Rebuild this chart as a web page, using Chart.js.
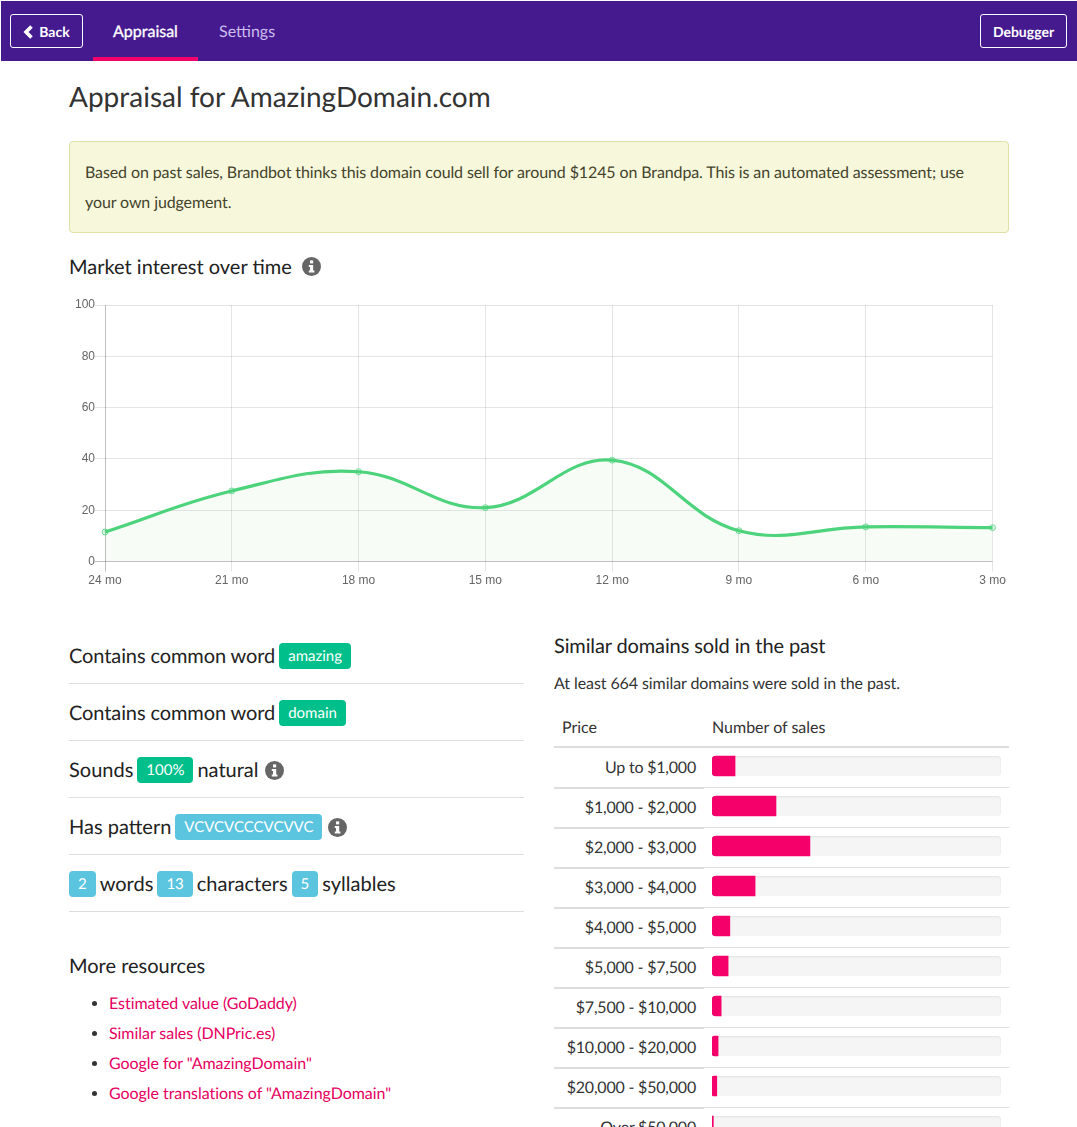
<!DOCTYPE html>
<html>
<head>
<meta charset="utf-8">
<title>Appraisal for AmazingDomain.com</title>
<script src="https://cdn.jsdelivr.net/npm/chart.js@4"></script>
<style>
html, body { margin: 0; padding: 0; background: #fff; }
#page { position: relative; width: 1077px; height: 1127px; overflow: hidden; font-family: Lato, sans-serif; font-size: 16px; color: #333; text-rendering: geometricPrecision; font-kerning: normal; }
#page > * { position: absolute; }
.navbar { left: 1px; top: 1px; width: 1076px; height: 60px; background: #461a8f; }
.nav-btn { top: 14px; height: 32px; border: 1px solid #fff; border-radius: 3px; color: #fff; font-size: 14px; font-weight: 700; line-height: 33px; text-align: center; }
.nav-link { top: 21px; font-size: 16px; line-height: 22px; }
.nav-active { left: 93px; top: 57px; width: 105px; height: 4px; background: #f50068; }
h1, h2 { margin: 0; font-weight: 400; white-space: nowrap; }
h1 { left: 69px; top: 77px; font-size: 28px; line-height: 38px; color: #333; }
h2 { font-size: 20px; line-height: 26px; color: #222; }
.alert { left: 69px; top: 141px; width: 908px; height: 59px; padding: 16px 15px 15px; background: #f7f7dc; border: 1px solid #dfdfa8; border-radius: 4px; color: #44442c; font-size: 16px; line-height: 30px; letter-spacing: -0.11px; }
.info { width: 19px; height: 19px; }
.fact { left: 69px; width: 455px; height: 56px; border-bottom: 1px solid #ddd; font-size: 20px; line-height: 26px; color: #222; white-space: nowrap; }
.fact span.inner { position: absolute; left: 0; top: 16px; display: flex; align-items: center; gap: 4px; }
.fact.tight { letter-spacing: -0.1px; }
.badge { display: inline-block; height: 26px; line-height: 26px; padding: 0 9px; border-radius: 4px; color: #fff; font-size: 15px; letter-spacing: 0; }
.green { background: #00bf8a; }
.blue { background: #5bc4df; }
.resources { left: 69px; top: 989px; margin: 0; padding: 0 0 0 40px; font-size: 16px; line-height: 30px; color: #333; letter-spacing: -0.05px; }
.resources span { color: #e6005f; }
.sales-table { left: 554px; top: 709px; width: 455px; border-collapse: collapse; font-size: 16px; color: #333; }
.sales-table th { height: 37px; padding: 0 8px; text-align: left; font-weight: 400; border-bottom: 2px solid #ddd; }
.sales-table td { height: 39px; padding: 0; border-bottom: 1px solid #ddd; }
.sales-table td.price { width: 142px; height: 38px; padding: 0 8px 0 0; text-align: right; border-bottom: 2px solid #ddd; letter-spacing: -0.2px; }
.track { position: relative; top: -2px; margin: 0 8px; height: 20px; background: #f5f5f5; border-radius: 4px; box-shadow: inset 0 1px 2px rgba(0,0,0,.08); }
#trend-wrap { left: 69px; top: 295px; width: 940px; height: 300px; }
#sales-wrap { left: 712px; top: 746px; width: 289px; height: 400px; }
</style>
</head>
<body>
<div id="page">
    <div class="navbar"></div>
    <div class="nav-btn" style="left:10px;width:71px"><svg width="11" height="14" viewBox="0 0 11 14" style="margin-right:5px;vertical-align:-2px"><polyline points="8.5,1.5 3,7 8.5,12.5" fill="none" stroke="#fff" stroke-width="3.6"/></svg>Back</div>
    <div class="nav-link" style="left:113px;color:#fff;-webkit-text-stroke:0.3px #fff">Appraisal</div>
    <div class="nav-active"></div>
    <div class="nav-link" style="left:219px;color:#cbbdf0">Settings</div>
    <div class="nav-btn" style="left:980px;width:85px">Debugger</div>

    <h1>Appraisal for AmazingDomain.com</h1>
    <div class="alert">Based on past sales, Brandbot thinks this domain could sell for around $1245 on Brandpa. This is an automated assessment; use your own judgement.</div>
    <h2 style="left:69px;top:254px">Market interest over time</h2>
    <svg class="info" style="left:302px;top:257px" viewBox="0 0 19 19"><use href="#info-icon"/></svg>

    <div id="trend-wrap"><canvas id="trend-chart"></canvas></div>

    <div class="fact tight" style="top:627px"><span class="inner">Contains common word <span class="badge green">amazing</span></span></div>
    <div class="fact tight" style="top:684px"><span class="inner">Contains common word <span class="badge green">domain</span></span></div>
    <div class="fact" style="top:741px"><span class="inner">Sounds <span class="badge green">100%</span>natural<svg class="info" style="margin-left:2px" viewBox="0 0 19 19"><use href="#info-icon"/></svg></span></div>
    <div class="fact" style="top:798px"><span class="inner">Has pattern <span class="badge blue">VCVCVCCCVCVVC</span><svg class="info" style="margin-left:2px" viewBox="0 0 19 19"><use href="#info-icon"/></svg></span></div>
    <div class="fact" style="top:855px"><span class="inner"><span class="badge blue">2</span>words<span class="badge blue">13</span>characters<span class="badge blue">5</span>syllables</span></div>

    <h2 style="left:69px;top:953px">More resources</h2>
    <ul class="resources">
        <li><span>Estimated value (GoDaddy)</span></li>
        <li><span>Similar sales (DNPric.es)</span></li>
        <li><span>Google for "AmazingDomain"</span></li>
        <li><span>Google translations of "AmazingDomain"</span></li>
    </ul>

    <h2 style="left:554px;top:633px;letter-spacing:-0.12px">Similar domains sold in the past</h2>
    <div style="left:554px;top:673px;line-height:22px;white-space:nowrap;letter-spacing:-0.08px">At least 664 similar domains were sold in the past.</div>
    <table class="sales-table">
        <thead><tr><th>Price</th><th>Number of sales</th></tr></thead>
        <tbody id="sales-rows"></tbody>
    </table>
    <div id="sales-wrap"><canvas id="sales-chart"></canvas></div>
</div>

<svg width="0" height="0" style="position:absolute">
    <symbol id="info-icon" viewBox="0 0 19 19">
        <circle cx="9.5" cy="9.5" r="9.5" fill="#666"/>
        <rect x="8" y="3.4" width="3.2" height="3" fill="#fff"/>
        <path d="M6.8 8h4.4v5.4h1.2v2H6.8v-2H8V10H6.8z" fill="#fff"/>
    </symbol>
</svg>

<script>
// --- CHART DATA ---
const monthLabels = ['24 mo', '21 mo', '18 mo', '15 mo', '12 mo', '9 mo', '6 mo', '3 mo'];
const interestValues = [11.5, 27.5, 35, 21, 39.5, 12, 13.5, 13.2];
const priceRanges = ['Up to $1,000', '$1,000 - $2,000', '$2,000 - $3,000', '$3,000 - $4,000', '$4,000 - $5,000',
    '$5,000 - $7,500', '$7,500 - $10,000', '$10,000 - $20,000', '$20,000 - $50,000', 'Over $50,000'];
const salesCounts = [53, 147, 225, 99, 41, 37, 21, 14, 11, 3];
const salesTotal = 664;

// --- TABLE ROWS ---
document.getElementById('sales-rows').innerHTML = priceRanges
    .map(range => `<tr><td class="price">${range}</td><td><div class="track"></div></td></tr>`)
    .join('');

// --- MARKET INTEREST LINE ---
const gridColor = ctx => ctx.index === 0 ? 'rgba(0,0,0,0.25)' : 'rgba(0,0,0,0.1)';

new Chart(document.getElementById('trend-chart'), {
    type: 'line',
    data: {
        labels: monthLabels,
        datasets: [{
            data: interestValues,
            borderColor: '#4cd37b',
            borderWidth: 3.2,
            backgroundColor: 'rgba(90,200,70,0.05)',
            fill: true,
            tension: 0.4,
            pointRadius: 3,
            pointBorderWidth: 1,
            pointBorderColor: 'rgba(76,211,123,0.7)',
            pointBackgroundColor: 'rgba(76,211,123,0.2)'
        }]
    },
    options: {
        responsive: true,
        maintainAspectRatio: false,
        animation: false,
        layout: { autoPadding: false, padding: { top: 10, right: 16.5 } },
        plugins: { legend: { display: false }, tooltip: { enabled: false } },
        scales: {
            x: {
                grid: { color: gridColor, tickLength: 10 },
                border: { display: false },
                ticks: { color: '#666', padding: 2, maxRotation: 0, font: { family: 'Liberation Sans', size: 12 } },
                afterFit: scale => { scale.height = 33.5; }
            },
            y: {
                min: 0,
                max: 100,
                grid: { color: gridColor, tickLength: 10 },
                border: { display: false },
                ticks: { color: '#666', padding: 0, stepSize: 20, font: { family: 'Liberation Sans', size: 12 } },
                afterFit: scale => { scale.width = 36; }
            }
        }
    }
});

// --- SALES BARS ---
new Chart(document.getElementById('sales-chart'), {
    type: 'bar',
    data: {
        labels: priceRanges,
        datasets: [{
            data: salesCounts,
            backgroundColor: '#f5006a',
            barThickness: 20,
            borderRadius: { topLeft: 4, bottomLeft: 4, topRight: 0, bottomRight: 0 },
            borderSkipped: false
        }]
    },
    options: {
        indexAxis: 'y',
        responsive: true,
        maintainAspectRatio: false,
        animation: false,
        layout: { autoPadding: false },
        plugins: { legend: { display: false }, tooltip: { enabled: false } },
        scales: {
            x: { display: false, min: 0, max: salesTotal },
            y: { display: false }
        }
    }
});
</script>
</body>
</html>
